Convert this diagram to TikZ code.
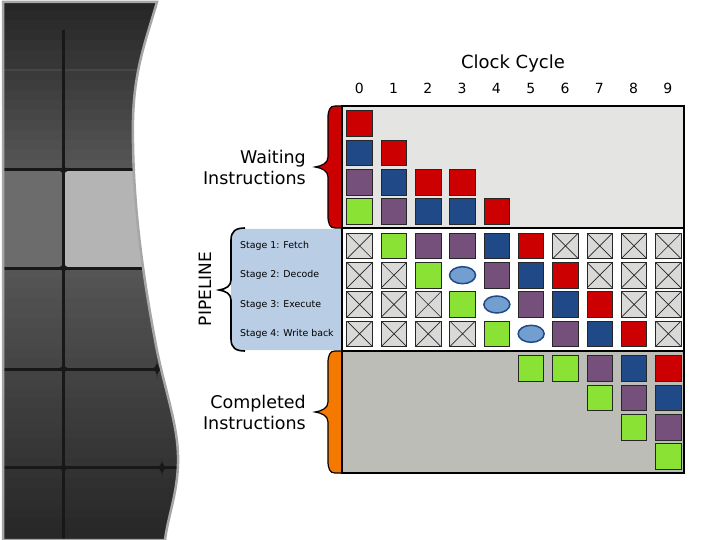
\documentclass[tikz,border=0pt]{standalone}
\usepackage{fontspec}
\setmainfont{DejaVu Sans}
\usetikzlibrary{matrix,positioning,shapes.geometric}

\definecolor{cellred}{HTML}{CC0000}
\definecolor{cellblue}{HTML}{204A87}
\definecolor{cellplum}{HTML}{75507B}
\definecolor{cellgreen}{HTML}{8AE234}
\definecolor{holefill}{HTML}{729FCF}
\definecolor{braceorange}{HTML}{F57900}
\definecolor{waitbg}{HTML}{E4E4E2}
\definecolor{donebg}{HTML}{BCBDB7}
\definecolor{pipebg}{HTML}{B9CDE5}
\definecolor{nixfill}{HTML}{D9D9D7}
\definecolor{panelA}{HTML}{262626}
\definecolor{panelB}{HTML}{555555}
\definecolor{tilemid}{HTML}{6C6C6C}
\definecolor{tilelight}{HTML}{B4B4B4}
\definecolor{gridline}{HTML}{181818}
\definecolor{edgegray}{HTML}{A6A6A6}

\tikzset{
cellmat/.style={
  matrix of nodes,
  nodes in empty cells,
  inner sep=0pt,
  column sep=7.9pt,
  row sep=2.9pt,
  nodes={minimum size=25.5pt,inner sep=0pt,outer sep=0pt,anchor=center,
    draw,draw opacity=0,line width=0.9pt}
  },
nummat/.style={
  matrix of nodes,
  inner sep=0pt,
  column sep=8.8pt,
  nodes={minimum width=25.5pt,minimum height=16pt,inner sep=0pt,
    font=\fontsize{14}{16}\selectfont}
  },
cell/.style={draw=black!85,draw opacity=1,line width=0.9pt},
rd/.style={cell,fill=cellred},
bl/.style={cell,fill=cellblue},
pl/.style={cell,fill=cellplum},
gr/.style={cell,fill=cellgreen},
nix/.style={cell,fill=nixfill,
  path picture={\draw[line width=0.7pt]
    (path picture bounding box.north west) -- (path picture bounding box.south east)
    (path picture bounding box.south west) -- (path picture bounding box.north east);}},
hole/.style={ellipse,draw=cellblue,line width=1.5pt,fill=holefill,
  minimum width=26pt,minimum height=17pt,inner sep=0pt},
sidelabel/.style={align=right,inner sep=0pt,font=\fontsize{17.5}{21}\selectfont},
stagelabel/.style={anchor=west,inner sep=0pt,font=\fontsize{9.4}{11}\selectfont},
junction/.pic={
  \fill[gridline] (-10,0) .. controls (-2,0) and (0,-2) .. (0,-10)
    .. controls (0,-2) and (2,0) .. (10,0)
    .. controls (2,0) and (0,2) .. (0,10)
    .. controls (0,2) and (-2,0) .. (-10,0) -- cycle;}
}

% filled brace against the left side of the table
\newcommand{\fatbrace}[3]{%
  \filldraw[fill=#3,draw=black,line width=1.2pt]
    (342,#1) -- (335,#1) .. controls (330,#1) and (328,{#1+4}) .. (328,{#1+12})
    -- (328,{(#1+#2)/2-10}) .. controls (328,{(#1+#2)/2-4}) and (322,{(#1+#2)/2-1}) .. (315,{(#1+#2)/2})
    .. controls (322,{(#1+#2)/2+1}) and (328,{(#1+#2)/2+4}) .. (328,{(#1+#2)/2+10})
    -- (328,{#2-12}) .. controls (328,{#2-4}) and (330,#2) .. (335,#2) -- (342,#2) -- cycle;}

\def\panelpath{(3,2) -- (157,2) .. controls (146,40) and (134,70) .. (133,120)
  .. controls (132,190) and (140,260) .. (155,340)
  .. controls (163,385) and (177,420) .. (178,455)
  .. controls (179,490) and (168,515) .. (165,540) -- (3,540) -- cycle}

\begin{document}
\begin{tikzpicture}[x=1pt,y=-1pt]
\useasboundingbox (0,0) rectangle (720,540);

% slide panel on the left
\begin{scope}
\clip \panelpath;
\foreach \i in {0,...,16}{
  \pgfmathtruncatemacro\p{100*\i/16}
  \fill[panelB!\p!panelA] (0,{10*\i}) rectangle (200,{10*\i+10.5});
}
\foreach \i in {0,...,27}{
  \pgfmathtruncatemacro\p{100-100*\i/27}
  \fill[panelB!\p!panelA] (0,{268+10*\i}) rectangle (200,{278.5+10*\i});
}
\fill[tilemid] (3,170) rectangle (63.6,268);
\fill[tilelight] (63.6,170) rectangle (200,268);
\draw[gridline!80,line width=2pt] (0,70) -- (200,70);
\draw[gridline,line width=3pt] (0,170) -- (200,170) (0,268) -- (200,268)
  (0,369) -- (200,369) (0,467.7) -- (200,467.7);
\draw[gridline,line width=3pt] (63.6,30) -- (63.6,540);
\pic at (63.6,170) {junction};
\pic at (63.6,268) {junction};
\pic at (63.6,369) {junction};
\pic at (63.6,467.7) {junction};
\pic at (157,369) {junction};
\pic at (162,467.7) {junction};
\end{scope}
\draw[edgegray,line width=2.5pt] \panelpath;

% pipeline label box and brace
\fill[pipebg] (342,229) -- (240,229) .. controls (233,229) and (231,232) .. (231,240)
  -- (231,340) .. controls (231,348) and (233,350) .. (240,350) -- (342,350) -- cycle;
\draw[line width=1.6pt] (245,228) .. controls (236,228) and (231,231) .. (231,240)
  -- (231,280) .. controls (231,286) and (226,289) .. (219,290)
  .. controls (226,291) and (231,294) .. (231,300)
  -- (231,339) .. controls (231,348) and (236,351) .. (245,351);

% table regions
\fill[waitbg] (342,106) rectangle (684,228);
\fill[white] (342,228) rectangle (684,351);
\fill[donebg] (342,351) rectangle (684,473);
\fatbrace{106}{228}{cellred}
\fatbrace{351}{473}{braceorange}
\draw[line width=1.2pt] (342,106) rectangle (684,473);
\draw[line width=1.2pt] (342,228) -- (684,228) (342,351) -- (684,351);

\matrix[nummat,anchor=west] at (346.25,88) (cycles)
{
0 & 1 & 2 & 3 & 4 & 5 & 6 & 7 & 8 & 9 \\
};
\node[font=\fontsize{18}{21}\selectfont] (clock) at (513,64) {Clock Cycle};

\matrix[cellmat,anchor=north west] at (346.25,110.25) (waitmat)
{
|[rd]| \\
|[bl]| & |[rd]| \\
|[pl]| & |[bl]| & |[rd]| & |[rd]| \\
|[gr]| & |[pl]| & |[bl]| & |[bl]| & |[rd]| \\
};

\matrix[cellmat,anchor=north west] at (346.25,232.5) (pipemat)
{
|[nix]| & |[gr]| & |[pl]| & |[pl]| & |[bl]| & |[rd]| & |[nix]| & |[nix]| & |[nix]| & |[nix]| \\
|[nix]| & |[nix]| & |[gr]| & & |[pl]| & |[bl]| & |[rd]| & |[nix]| & |[nix]| & |[nix]| \\
|[nix]| & |[nix]| & |[nix]| & |[gr]| & & |[pl]| & |[bl]| & |[rd]| & |[nix]| & |[nix]| \\
|[nix]| & |[nix]| & |[nix]| & |[nix]| & |[gr]| & & |[pl]| & |[bl]| & |[rd]| & |[nix]| \\
};
\node[hole] (stall1) at (pipemat-2-4) {};
\node[hole] (stall2) at (pipemat-3-5) {};
\node[hole] (stall3) at (pipemat-4-6) {};

\matrix[cellmat,anchor=north west] at (346.25,355.25) (donemat)
{
 & & & & & |[gr]| & |[gr]| & |[pl]| & |[bl]| & |[rd]| \\
 & & & & & & & |[gr]| & |[pl]| & |[bl]| \\
 & & & & & & & & |[gr]| & |[pl]| \\
 & & & & & & & & & |[gr]| \\
};

% labels
\node[sidelabel,anchor=east] (waitlbl) at (306,167.5) {Waiting\\Instructions};
\node[sidelabel,anchor=east] (donelbl) at (306,412) {Completed\\Instructions};
\node[rotate=90,font=\fontsize{17}{20}\selectfont] (pipelbl) at (205,289) {PIPELINE};
\node[stagelabel] (fetch) at (240,0 |- pipemat-1-1) {Stage 1: Fetch};
\node[stagelabel] (decode) at (240,0 |- pipemat-2-1) {Stage 2: Decode};
\node[stagelabel] (execute) at (240,0 |- pipemat-3-1) {Stage 3: Execute};
\node[stagelabel] (writeback) at (240,0 |- pipemat-4-1) {Stage 4: Write back};

\end{tikzpicture}
\end{document}
